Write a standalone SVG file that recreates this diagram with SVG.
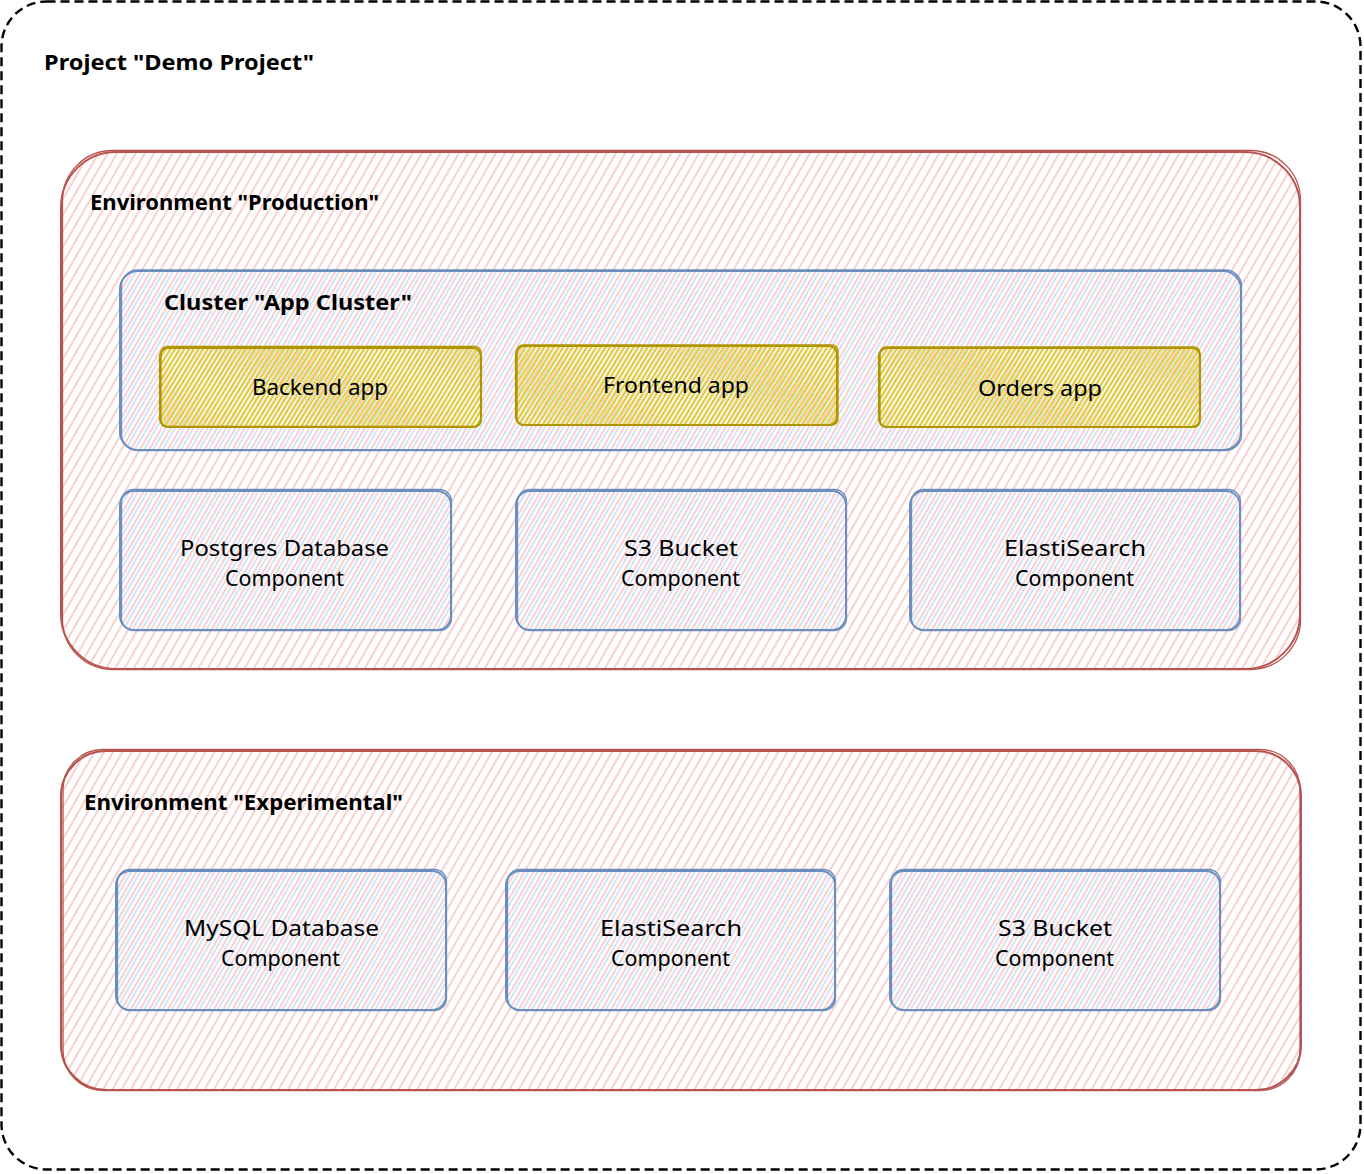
<svg xmlns="http://www.w3.org/2000/svg" width="1364" height="1174" viewBox="0 0 1364 1174">
  <defs>
    <pattern id="hRed" patternUnits="userSpaceOnUse" width="8" height="8" patternTransform="rotate(30)">
      <line x1="2" y1="0" x2="2" y2="8" stroke="#f2aaa6" stroke-width="1.1"/>
    </pattern>
    <pattern id="hBlue" patternUnits="userSpaceOnUse" width="8" height="8" patternTransform="rotate(30)">
      <line x1="5.5" y1="0" x2="5.5" y2="8" stroke="#c4d8f5" stroke-width="1.5"/>
    </pattern>
    <pattern id="hYellow" patternUnits="userSpaceOnUse" width="4" height="4" patternTransform="rotate(32)">
      <line x1="1.5" y1="0" x2="1.5" y2="4" stroke="#e0c400" stroke-width="1.6"/>
    </pattern>
  </defs>
  <style>
    .env { stroke: #b85450; stroke-width: 2; }
    .blu { stroke: #6c8ebf; stroke-width: 2; }
    .yel { stroke: #b09500; stroke-width: 2.2; }
    .sk { fill: none; stroke-width: 1.3; }
    .title { font-family: "Comic Sans MS", "Noto Sans", "DejaVu Sans", sans-serif; font-weight: bold; font-size: 22px; fill: #000; }
    .lbl { font-family: "Comic Sans MS", "Noto Sans", "DejaVu Sans", sans-serif; font-size: 21px; fill: #000; }
  </style>

  <g id="project">
    <rect x="1.5" y="1.5" width="1359" height="1168" rx="45" fill="#ffffff" stroke="#000" stroke-width="2.4" stroke-dasharray="9 5"/>
    <text class="title" x="44" y="70" textLength="270" lengthAdjust="spacingAndGlyphs">Project "Demo Project"</text>
  </g>

  <g id="env-production">
    <rect x="61" y="152" width="1239" height="517" rx="55" fill="url(#hRed)" class="env"/>
    <rect x="62.5" y="150.5" width="1238" height="519" rx="50" class="env sk"/>
    <text class="title" x="90" y="210" textLength="289" lengthAdjust="spacingAndGlyphs">Environment "Production"</text>
  </g>

  <g id="cluster-app">
    <rect x="120" y="271" width="1121" height="179" rx="18" fill="url(#hBlue)" class="blu"/>
    <rect x="121.5" y="270" width="1120" height="180.5" rx="16" class="blu sk"/>
    <text class="title" x="164" y="310" textLength="248" lengthAdjust="spacingAndGlyphs">Cluster "App Cluster"</text>
  </g>

  <g id="backend-app">
    <rect x="160" y="348" width="321" height="79" rx="8" fill="url(#hYellow)" class="yel"/>
    <rect x="161" y="346.5" width="320" height="80" rx="6" class="yel sk"/>
    <text class="lbl" x="252" y="395" textLength="136" lengthAdjust="spacingAndGlyphs">Backend app</text>
  </g>

  <g id="frontend-app">
    <rect x="516" y="346" width="321" height="79" rx="8" fill="url(#hYellow)" class="yel"/>
    <rect x="517" y="345" width="321" height="80" rx="6" class="yel sk"/>
    <text class="lbl" x="603" y="393" textLength="146" lengthAdjust="spacingAndGlyphs">Frontend app</text>
  </g>

  <g id="orders-app">
    <rect x="879" y="348" width="321" height="79" rx="8" fill="url(#hYellow)" class="yel"/>
    <rect x="880" y="347" width="320" height="80" rx="6" class="yel sk"/>
    <text class="lbl" x="978" y="396" textLength="124" lengthAdjust="spacingAndGlyphs">Orders app</text>
  </g>

  <g id="postgres-component">
    <rect x="120" y="491" width="331" height="139" rx="14" fill="url(#hBlue)" class="blu"/>
    <rect x="121.5" y="489.5" width="330" height="141" rx="12" class="blu sk"/>
    <text class="lbl" x="180" y="556" textLength="209" lengthAdjust="spacingAndGlyphs">Postgres Database</text>
    <text class="lbl" x="225" y="586" textLength="119" lengthAdjust="spacingAndGlyphs">Component</text>
  </g>

  <g id="s3-component-prod">
    <rect x="516" y="491" width="330" height="139" rx="14" fill="url(#hBlue)" class="blu"/>
    <rect x="517.5" y="489.5" width="329" height="141" rx="12" class="blu sk"/>
    <text class="lbl" x="624" y="556" textLength="114" lengthAdjust="spacingAndGlyphs">S3 Bucket</text>
    <text class="lbl" x="621" y="586" textLength="119" lengthAdjust="spacingAndGlyphs">Component</text>
  </g>

  <g id="elastic-component-prod">
    <rect x="910" y="491" width="330" height="139" rx="14" fill="url(#hBlue)" class="blu"/>
    <rect x="911.5" y="489.5" width="329" height="141" rx="12" class="blu sk"/>
    <text class="lbl" x="1004" y="556" textLength="142" lengthAdjust="spacingAndGlyphs">ElastiSearch</text>
    <text class="lbl" x="1015" y="586" textLength="119" lengthAdjust="spacingAndGlyphs">Component</text>
  </g>

  <g id="env-experimental">
    <rect x="61" y="751" width="1240" height="339" rx="45" fill="url(#hRed)" class="env"/>
    <rect x="63" y="749.5" width="1237" height="341" rx="40" class="env sk"/>
    <text class="title" x="84" y="810" textLength="319" lengthAdjust="spacingAndGlyphs">Environment "Experimental"</text>
  </g>

  <g id="mysql-component">
    <rect x="116" y="871" width="330" height="139" rx="14" fill="url(#hBlue)" class="blu"/>
    <rect x="117.5" y="869.5" width="329" height="141" rx="12" class="blu sk"/>
    <text class="lbl" x="184" y="936" textLength="195" lengthAdjust="spacingAndGlyphs">MySQL Database</text>
    <text class="lbl" x="221" y="966" textLength="119" lengthAdjust="spacingAndGlyphs">Component</text>
  </g>

  <g id="elastic-component-exp">
    <rect x="506" y="871" width="329" height="139" rx="14" fill="url(#hBlue)" class="blu"/>
    <rect x="507.5" y="869.5" width="328" height="141" rx="12" class="blu sk"/>
    <text class="lbl" x="600" y="936" textLength="142" lengthAdjust="spacingAndGlyphs">ElastiSearch</text>
    <text class="lbl" x="611" y="966" textLength="119" lengthAdjust="spacingAndGlyphs">Component</text>
  </g>

  <g id="s3-component-exp">
    <rect x="890" y="871" width="330" height="139" rx="14" fill="url(#hBlue)" class="blu"/>
    <rect x="891.5" y="869.5" width="329" height="141" rx="12" class="blu sk"/>
    <text class="lbl" x="998" y="936" textLength="114" lengthAdjust="spacingAndGlyphs">S3 Bucket</text>
    <text class="lbl" x="995" y="966" textLength="119" lengthAdjust="spacingAndGlyphs">Component</text>
  </g>

  <g id="connectors"></g>
</svg>
